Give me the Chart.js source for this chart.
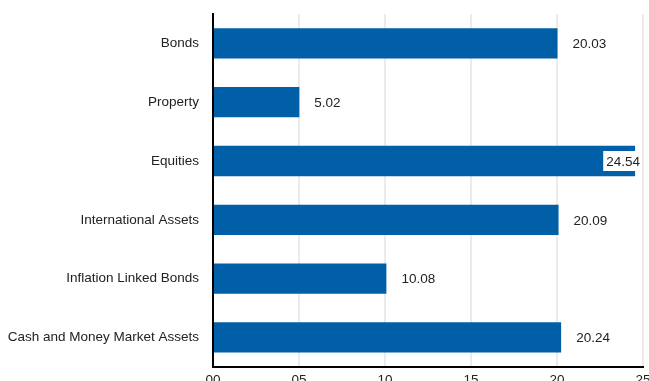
<!DOCTYPE html>
<html>
<head>
<meta charset="utf-8">
<script src="https://cdn.jsdelivr.net/npm/chart.js@4"></script>
<style>
  html, body { margin: 0; padding: 0; overflow: hidden; background: #fff; }
</style>
</head>
<body>
<canvas id="allocCV" width="649" height="393"></canvas>
<script>
const categories = ['Bonds', 'Property', 'Equities', 'International Assets', 'Inflation Linked Bonds', 'Cash and Money Market Assets'];
const weights = [20.03, 5.02, 24.54, 20.09, 10.08, 20.24];
const xTicks = [0, 5, 10, 15, 20, 25];

(function(){
  const ctx = document.getElementById('allocCV');
  const fontFam = '"Liberation Sans", Arial, sans-serif';

  // value labels right of each bar, pulled inside (white box) when they would overflow
  const valueLabels = {
    id: 'valueLabels',
    afterDatasetsDraw(chart) {
      const c = chart.ctx;
      const area = chart.chartArea;
      const meta = chart.getDatasetMeta(0);
      c.save();
      c.font = '13.5px ' + fontFam;
      c.textBaseline = 'middle';
      meta.data.forEach((bar, i) => {
        const txt = weights[i].toFixed(2);
        const w = c.measureText(txt).width;
        let x = bar.x + 15;
        if (x + w > area.right) {
          x = area.right - w - 3;
          c.fillStyle = '#ffffff';
          c.fillRect(x - 3, bar.y - 10, w + 5, 20);
        }
        c.fillStyle = '#222222';
        c.fillText(txt, x, bar.y + 1);
      });
      c.restore();
    }
  };

  new Chart(ctx, {
    type: 'bar',
    data: {
      labels: categories,
      datasets: [{
        data: weights,
        backgroundColor: '#005fa6',
        barPercentage: 0.6,
        categoryPercentage: 0.86
      }]
    },
    options: {
      indexAxis: 'y',
      responsive: false,
      animation: false,
      layout: {
        padding: { top: 14, left: 0, right: 0, bottom: 0 }
      },
      scales: {
        x: {
          min: 0,
          max: 25,
          afterBuildTicks: function(axis) {
            axis.ticks = xTicks.map(v => ({ value: v }));
          },
          afterFit: function(axis) {
            axis.paddingRight = 6;
          },
          ticks: {
            padding: 5,
            color: '#222',
            font: { size: 13.5, family: fontFam },
            callback: function(v) { return String(v).padStart(2, '0'); }
          },
          grid: {
            color: '#ebebeb',
            lineWidth: 2,
            drawTicks: false
          },
          border: { color: '#000', width: 2 }
        },
        y: {
          afterFit: function(axis) {
            axis.width = 213;
            axis.paddingTop = 0;
            axis.paddingBottom = 0;
          },
          ticks: {
            padding: 14,
            color: '#222',
            font: { size: 13.5, family: fontFam }
          },
          grid: { display: false, drawTicks: false },
          border: { color: '#000', width: 2 }
        }
      },
      plugins: {
        legend: { display: false },
        tooltip: { enabled: false }
      }
    },
    plugins: [valueLabels]
  });
})();
</script>
</body>
</html>
